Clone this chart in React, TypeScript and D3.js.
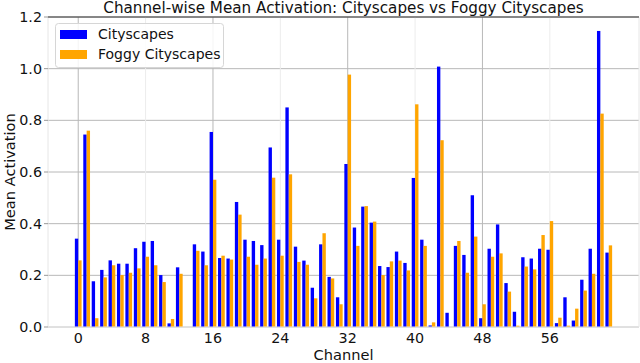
import React from "react";
import * as d3 from "d3";

const channels: number[] = Array.from({ length: 64 }, (_, i) => i);
const cityscapes: number[] = [
  0.342, 0.745, 0.177, 0.221, 0.258, 0.245, 0.245, 0.305, 0.33, 0.333,
  0.201, 0.014, 0.231, 0.0, 0.32, 0.292, 0.755, 0.267, 0.265, 0.484,
  0.338, 0.333, 0.317, 0.695, 0.338, 0.85, 0.311, 0.257, 0.152, 0.32,
  0.194, 0.115, 0.631, 0.385, 0.466, 0.404, 0.236, 0.232, 0.292, 0.248,
  0.577, 0.338, 0.006, 1.008, 0.055, 0.314, 0.279, 0.51, 0.034, 0.303,
  0.397, 0.17, 0.059, 0.27, 0.265, 0.303, 0.299, 0.015, 0.115, 0.025,
  0.183, 0.303, 1.146, 0.288,
];
const foggy: number[] = [
  0.258, 0.76, 0.034, 0.192, 0.239, 0.201, 0.21, 0.227, 0.272, 0.239,
  0.174, 0.031, 0.206, 0.0, 0.295, 0.239, 0.57, 0.276, 0.261, 0.435,
  0.272, 0.241, 0.265, 0.578, 0.276, 0.591, 0.252, 0.241, 0.111, 0.363,
  0.188, 0.088, 0.977, 0.314, 0.468, 0.408, 0.201, 0.254, 0.257, 0.219,
  0.862, 0.314, 0.018, 0.723, 0.0, 0.333, 0.21, 0.35, 0.088, 0.272,
  0.285, 0.137, 0.005, 0.234, 0.223, 0.356, 0.41, 0.036, 0.005, 0.071,
  0.141, 0.206, 0.826, 0.316,
];
const xTicks: number[] = [0, 8, 16, 24, 32, 40, 48, 56];
const yTicks: number[] = [0, 0.2, 0.4, 0.6, 0.8, 1.0, 1.2];
const seriesNames: string[] = ["Cityscapes", "Foggy Cityscapes"];
const seriesColors: string[] = ["#0000ff", "#ffa500"];

const W = 640;
const H = 363;
const left = 48;
const right = 639;
const top = 17;
const bottom = 327;
const barW = 0.4;
const FONT = "DejaVu Sans, Verdana, sans-serif";

export default function App() {
  const x = d3.scaleLinear().domain([-3.59, 66.59]).range([left, right]);
  const y = d3.scaleLinear().domain([0, 1.2]).range([bottom, top]);
  const bw = x(barW) - x(0);

  return (
    <svg
      width={W}
      height={H}
      style={{ position: "absolute", left: 0, top: 0, background: "#fff" }}
      fontFamily={FONT}
    >
      <rect x={0} y={0} width={W} height={H} fill="#fff" />
      {/* grid */}
      {yTicks.map((t) => (
        <line
          key={"gy" + t}
          x1={left}
          x2={right}
          y1={y(t)}
          y2={y(t)}
          stroke="#b8b8b8"
          strokeWidth={1}
        />
      ))}
      {xTicks.map((t, i) => (
        <line
          key={"gx" + t}
          x1={x(t)}
          x2={x(t)}
          y1={top}
          y2={bottom}
          stroke={i % 2 === 0 ? "#b8b8b8" : "#ececec"}
          strokeWidth={1}
        />
      ))}
      {/* bars */}
      {channels.map((c) => (
        <g key={"b" + c}>
          <rect
            x={x(c - barW)}
            y={y(cityscapes[c])}
            width={bw}
            height={y(0) - y(cityscapes[c])}
            fill={seriesColors[0]}
          />
          <rect
            x={x(c)}
            y={y(foggy[c])}
            width={bw}
            height={y(0) - y(foggy[c])}
            fill={seriesColors[1]}
          />
        </g>
      ))}
      {/* spines */}
      <line x1={left} x2={left} y1={top} y2={bottom} stroke="#e6e6e6" />
      <line x1={right} x2={right} y1={top} y2={bottom} stroke="#e6e6e6" />
      <line x1={left} x2={right} y1={bottom} y2={bottom} stroke="#e6e6e6" />
      <line x1={left} x2={right} y1={top} y2={top} stroke="#333" />
      {/* y ticks */}
      {yTicks.map((t) => (
        <g key={"ty" + t}>
          <line x1={left - 4} x2={left} y1={y(t)} y2={y(t)} stroke="#999" />
          <text
            x={left - 6}
            y={y(t)}
            dy="0.35em"
            textAnchor="end"
            fontSize={14.3}
            fill="#111"
          >
            {t.toFixed(1)}
          </text>
        </g>
      ))}
      {xTicks.map((t) => (
        <text
          key={"tx" + t}
          x={x(t)}
          y={bottom + 16}
          textAnchor="middle"
          fontSize={14.3}
          fill="#111"
        >
          {t}
        </text>
      ))}
      {/* labels */}
      <text
        x={(left + right) / 2}
        y={13}
        textAnchor="middle"
        fontSize={15.2}
        fill="#111"
      >
        Channel-wise Mean Activation: Cityscapes vs Foggy Cityscapes
      </text>
      <text
        x={(left + right) / 2}
        y={360}
        textAnchor="middle"
        fontSize={14.6}
        fill="#111"
      >
        Channel
      </text>
      <text
        transform={`translate(15, ${(top + bottom) / 2}) rotate(-90)`}
        textAnchor="middle"
        fontSize={14.6}
        fill="#111"
      >
        Mean Activation
      </text>
      {/* legend */}
      <rect
        x={55.5}
        y={23.5}
        width={168}
        height={44}
        rx={3}
        fill="#fff"
        fillOpacity={0.85}
        stroke="#d6d6d6"
      />
      {seriesNames.map((n, i) => (
        <g key={n}>
          <rect
            x={60}
            y={30 + i * 20}
            width={27}
            height={9}
            fill={seriesColors[i]}
          />
          <text x={98} y={39 + i * 20} fontSize={14} fill="#111">
            {n}
          </text>
        </g>
      ))}
    </svg>
  );
}
